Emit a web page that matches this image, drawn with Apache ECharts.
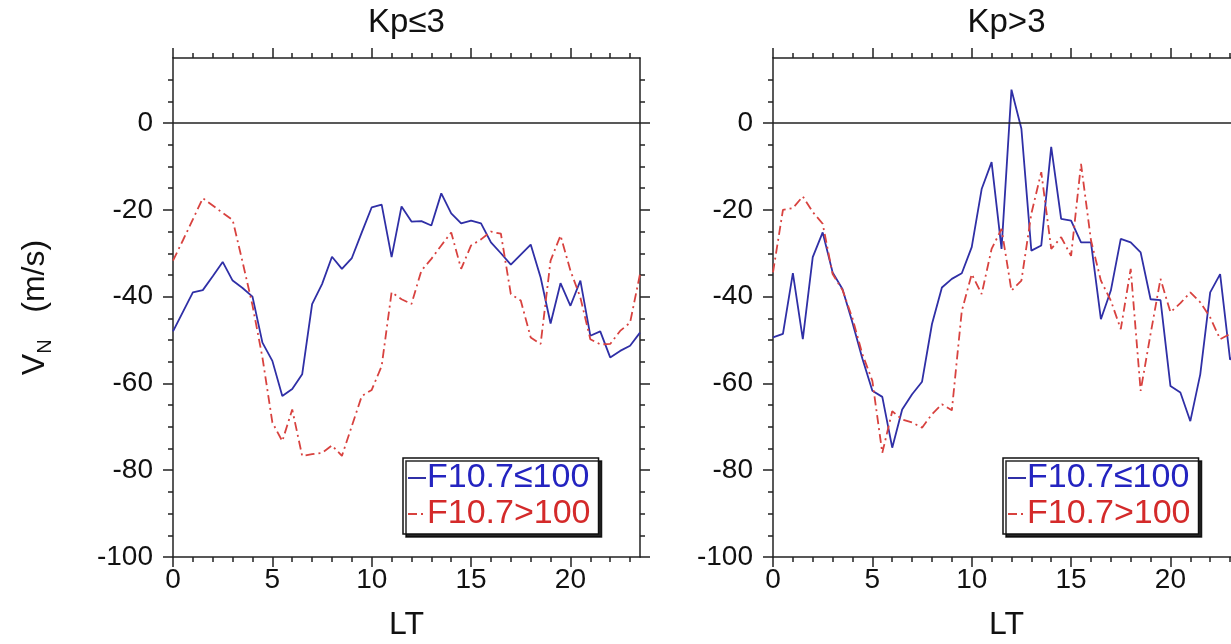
<!DOCTYPE html>
<html>
<head>
<meta charset="utf-8">
<script src="https://cdn.jsdelivr.net/npm/echarts@6/dist/echarts.min.js"></script>
<style>
html, body { margin: 0; padding: 0; background: #fff; }
#chart { width: 1231px; height: 644px; }
</style>
</head>
<body>
<div id="chart"></div>
<script>
// local time (h)
var lt = [0, 0.5, 1, 1.5, 2, 2.5, 3, 3.5, 4, 4.5, 5, 5.5, 6, 6.5, 7, 7.5, 8, 8.5, 9, 9.5,
    10, 10.5, 11, 11.5, 12, 12.5, 13, 13.5, 14, 14.5, 15, 15.5, 16, 16.5, 17, 17.5, 18, 18.5, 19, 19.5,
    20, 20.5, 21, 21.5, 22, 22.5, 23, 23.5];

// Kp<=3
var kpLowF107Low = [-48, -43.5, -39, -38.5, -35.3, -32, -36.3, -38, -40, -50.6,
    -54.8, -62.9, -61.3, -57.9, -41.7, -37.1, -30.8, -33.6, -31.1, -25.2,
    -19.4, -18.8, -30.9, -19.2, -22.7, -22.6, -23.6, -16.2, -20.8, -23.1,
    -22.5, -23.1, -27.5, -30, -32.6, -30.3, -28, -35.6, -46.2, -36.9,
    -42.1, -36.3, -49, -48, -54, -52.5, -51.3, -48.3];
var kpLowF107High = [-31.7, -27, -22.2, -17.3, -19, -20.7, -22.3, -32, -42, -54,
    -69, -73.3, -66, -76.7, -76.3, -76, -74.3, -76.7, -69.8, -62.9,
    -61.5, -56, -39, -40.6, -41.7, -34, -31.3, -28.2, -25.2, -33.6,
    -28.2, -26.8, -25, -25.5, -39.4, -40.9, -49.4, -50.9, -31.7, -25.9,
    -34, -40.2, -49.8, -51, -50.9, -47.9, -46, -34.8];

// Kp>3
var kpHighF107Low = [-49.4, -48.6, -34.6, -49.8, -30.9, -25.2, -34.4, -38.3, -46, -54.3,
    -61.7, -63.1, -74.8, -66, -62.5, -59.6, -46.3, -37.9, -35.9, -34.6,
    -28.6, -15.2, -9, -29, 7.7, -1.3, -29.4, -28.2, -5.5, -22.1,
    -22.5, -27.5, -27.5, -45.2, -38.6, -26.7, -27.5, -29.8, -40.6, -40.8,
    -60.6, -62.1, -68.7, -57.9, -39, -34.8, -54.5, -52];
var kpHighF107High = [-34.4, -20, -19.6, -16.9, -20.5, -23.2, -34.8, -38.5, -45, -53.3,
    -59.4, -76, -66.4, -68.3, -69, -70.2, -67.1, -64.8, -66.2, -43.3,
    -34.8, -39.4, -29, -24.4, -38.6, -36.3, -20.9, -11.3, -29, -26.3,
    -30.6, -9.4, -27, -36.3, -40.9, -47.5, -33.6, -61.7, -48.6, -35.9,
    -43.6, -41.5, -39, -41.3, -44.8, -49.8, -48.6, -46];

var xMajor = [0, 5, 10, 15, 20];
var xMinor = [1, 2, 3, 4, 6, 7, 8, 9, 11, 12, 13, 14, 16, 17, 18, 19, 21, 22, 23];
var yMajor = [-100, -80, -60, -40, -20, 0];
var yMinor = [-95, -90, -85, -75, -70, -65, -55, -50, -45, -35, -30, -25, -15, -10, -5, 5, 10];
var panelTitles = ['Kp≤3', 'Kp>3'];
var seriesNames = ['F10.7≤100', 'F10.7>100'];

var FONT = '"Liberation Sans", Arial, sans-serif';
var axisColor = '#222';
var textColor = '#111';
var blue = '#2f2fa6';
var red = '#d8423f';

var grids = [
    {left: 173, top: 58, width: 467, height: 499, outerBoundsMode: 'none', containLabel: false},
    {left: 773, top: 58, width: 467, height: 499, outerBoundsMode: 'none', containLabel: false}
];

function pair(vals) {
    return vals.map(function (v, i) { return [lt[i], v]; });
}

var xAxes = [];
var yAxes = [];
for (var g = 0; g < 2; g++) {
    var lineOn = {show: true, onZero: false, lineStyle: {color: axisColor, width: 1.5}};
    var lineOff = {show: false, onZero: false};
    // bottom: major ticks + labels
    xAxes.push({
        gridIndex: g, type: 'value', position: 'bottom', min: 0, max: 23.5,
        axisLine: lineOn,
        axisTick: {show: true, length: 10, customValues: xMajor, lineStyle: {color: axisColor, width: 1.5}},
        axisLabel: {show: true, customValues: xMajor, fontSize: 28, color: textColor, fontFamily: FONT, margin: 9},
        splitLine: {show: false},
        name: 'LT', nameLocation: 'middle', nameGap: 52,
        nameTextStyle: {fontSize: 32, color: textColor, fontFamily: FONT}
    });
    // bottom: minor ticks
    xAxes.push({
        gridIndex: g, type: 'value', position: 'bottom', min: 0, max: 23.5,
        axisLine: lineOff,
        axisTick: {show: true, length: 5, customValues: xMinor, lineStyle: {color: axisColor, width: 1.5}},
        axisLabel: {show: false}, splitLine: {show: false}
    });
    // top: major ticks
    xAxes.push({
        gridIndex: g, type: 'value', position: 'top', min: 0, max: 23.5,
        axisLine: lineOn,
        axisTick: {show: true, length: 10, customValues: xMajor, lineStyle: {color: axisColor, width: 1.5}},
        axisLabel: {show: false}, splitLine: {show: false}
    });
    // top: minor ticks
    xAxes.push({
        gridIndex: g, type: 'value', position: 'top', min: 0, max: 23.5,
        axisLine: lineOff,
        axisTick: {show: true, length: 5, customValues: xMinor, lineStyle: {color: axisColor, width: 1.5}},
        axisLabel: {show: false}, splitLine: {show: false}
    });

    var leftMajor = {
        gridIndex: g, type: 'value', position: 'left', min: -100, max: 15,
        axisLine: lineOn,
        axisTick: {show: true, length: 10, customValues: yMajor, lineStyle: {color: axisColor, width: 1.5}},
        axisLabel: {show: true, customValues: yMajor, fontSize: 28, color: textColor, fontFamily: FONT, margin: 20},
        splitLine: {show: false}
    };
    if (g === 0) {
        leftMajor.name = '{v|V}{s|N}{v|   (m/s)}';
        leftMajor.nameLocation = 'middle';
        leftMajor.nameGap = 118;
        leftMajor.nameRotate = 90;
        leftMajor.nameTextStyle = {
            rich: {
                v: {fontSize: 32, color: textColor, fontFamily: FONT, lineHeight: 40, verticalAlign: 'middle'},
                s: {fontSize: 20, color: textColor, fontFamily: FONT, lineHeight: 40, verticalAlign: 'bottom'}
            }
        };
    }
    yAxes.push(leftMajor);
    yAxes.push({
        gridIndex: g, type: 'value', position: 'left', min: -100, max: 15,
        axisLine: lineOff,
        axisTick: {show: true, length: 5, customValues: yMinor, lineStyle: {color: axisColor, width: 1.5}},
        axisLabel: {show: false}, splitLine: {show: false}
    });
    yAxes.push({
        gridIndex: g, type: 'value', position: 'right', min: -100, max: 15,
        axisLine: lineOn,
        axisTick: {show: true, length: 10, customValues: yMajor, lineStyle: {color: axisColor, width: 1.5}},
        axisLabel: {show: false}, splitLine: {show: false}
    });
    yAxes.push({
        gridIndex: g, type: 'value', position: 'right', min: -100, max: 15,
        axisLine: lineOff,
        axisTick: {show: true, length: 5, customValues: yMinor, lineStyle: {color: axisColor, width: 1.5}},
        axisLabel: {show: false}, splitLine: {show: false}
    });
}

var panelData = [
    [kpLowF107Low, kpLowF107High],
    [kpHighF107Low, kpHighF107High]
];

var series = [];
for (var p = 0; p < 2; p++) {
    series.push({
        name: seriesNames[0], type: 'line', xAxisIndex: p * 4, yAxisIndex: p * 4,
        data: pair(panelData[p][0]), symbol: 'none', showSymbol: false,
        lineStyle: {color: blue, width: 1.8}, itemStyle: {color: blue},
        markLine: {
            silent: true, symbol: ['none', 'none'], label: {show: false},
            lineStyle: {color: axisColor, width: 1.5, type: 'solid'},
            data: [{yAxis: 0}]
        },
        z: 3
    });
    series.push({
        name: seriesNames[1], type: 'line', xAxisIndex: p * 4, yAxisIndex: p * 4,
        data: pair(panelData[p][1]), symbol: 'none', showSymbol: false,
        lineStyle: {color: red, width: 1.8, type: [9, 4, 2, 4]}, itemStyle: {color: red},
        z: 4
    });
}

var legends = grids.map(function (gr) {
    return {
        orient: 'vertical', left: gr.left + 230, top: 458,
        data: [
            {name: seriesNames[0], textStyle: {color: '#2424c0'}},
            {name: seriesNames[1], textStyle: {color: '#d42a2a'}}
        ],
        itemWidth: 18, itemHeight: 10, itemGap: 2,
        itemStyle: {opacity: 0},
        textStyle: {fontSize: 34, fontFamily: FONT, padding: [0, 0, 0, -4]},
        borderColor: '#111', borderWidth: 1.5, borderRadius: 0,
        padding: [3, 8, 3, 4], backgroundColor: '#fff',
        shadowColor: 'rgba(0,0,0,0.85)', shadowOffsetX: 3, shadowOffsetY: 3, shadowBlur: 0,
        selectedMode: false
    };
});

var titles = grids.map(function (gr, i) {
    return {
        type: 'text', x: gr.left + gr.width / 2, y: 6,
        style: {text: panelTitles[i], textAlign: 'center', align: 'center',
            fontSize: 33, fontFamily: FONT, fill: textColor}
    };
});

var myChart = echarts.init(document.getElementById('chart'), null, {renderer: 'canvas'});
var option = {
    backgroundColor: '#fff',
    animation: false,
    grid: grids,
    xAxis: xAxes,
    yAxis: yAxes,
    legend: legends,
    graphic: titles,
    series: series
};
myChart.setOption(option);
</script>
</body>
</html>
